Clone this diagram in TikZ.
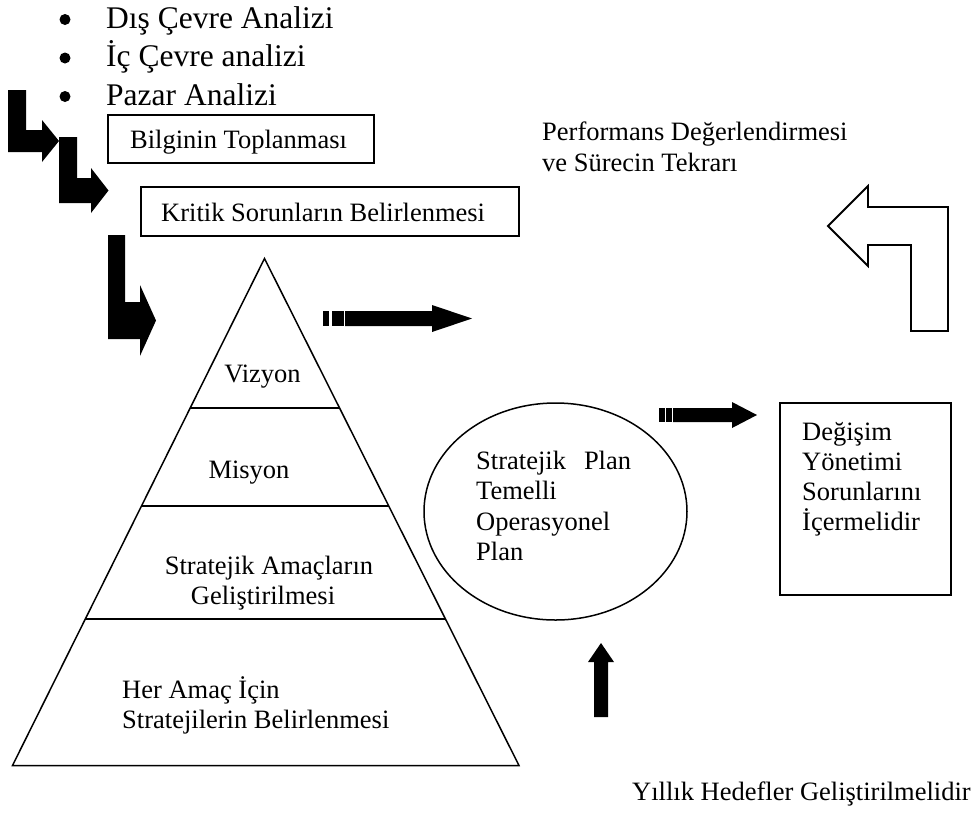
\documentclass[tikz,border=0pt]{standalone}
\usepackage{fontspec}
\setmainfont{Liberation Serif}
\usetikzlibrary{shapes.geometric}
\begin{document}
\begin{tikzpicture}[x=1pt,y=-1pt,
  txt/.style={inner sep=0pt, font=\fontsize{26.5}{30.5}\selectfont},
  bigtxt/.style={inner sep=0pt, font=\fontsize{31.5}{36}\selectfont},
  bulletdot/.style={circle, fill=black, draw=none, minimum size=11pt, inner sep=0pt},
  frame/.style={draw, line width=1.6pt, inner sep=0pt, outer sep=0pt, anchor=north west},
  blockarrow/.style={fill=black, draw=none},
  hollowarrow/.style={draw=black, line width=1.8pt, fill=white, line join=miter},
  pyr/.style={draw=black, line width=1.5pt, line join=miter}
]
\useasboundingbox (0,0) rectangle (975,812);

% bullet list
\node[bulletdot] (b1) at (65,19.5) {};
\node[bulletdot] (b2) at (65,58) {};
\node[bulletdot] (b3) at (65,96.5) {};
\node[bigtxt, anchor=base west] (l1) at (106,28) {Dış Çevre Analizi};
\node[bigtxt, anchor=base west] (l2) at (106,66.5) {İç Çevre analizi};
\node[bigtxt, anchor=base west] (l3) at (106,105) {Pazar Analizi};

% boxes
\node[frame, minimum width=266pt, minimum height=48pt] (bilgi) at (108,115) {};
\node[txt, anchor=base west] (bilgit) at (130,148) {Bilginin Toplanması};
\node[frame, minimum width=378pt, minimum height=49pt] (kritik) at (141,187) {};
\node[txt, anchor=base west] (kritikt) at (161,221.5) {Kritik Sorunların Belirlenmesi};

% bent black arrows
\fill[blockarrow] (8,90) -- (26,90) -- (26,130) -- (42,130) -- (42,120) -- (59,141) -- (42,162) -- (42,152) -- (8,152) -- cycle;
\fill[blockarrow] (59,137) -- (77,137) -- (77,178) -- (91,178) -- (91,168) -- (108.5,190.5) -- (91,213) -- (91,203) -- (59,203) -- cycle;
\fill[blockarrow] (108,235) -- (125,235) -- (125,302) -- (140,302) -- (140,285) -- (156,320.5) -- (140,356) -- (140,339) -- (108,339) -- cycle;

% pyramid
\coordinate (apex) at (264.5,258.5);
\coordinate (bl) at (12.5,765.5);
\coordinate (br) at (519,765.5);
\draw[pyr] (apex) -- (br) -- (bl) -- cycle;
\draw[pyr] (190.2,408) -- (339.5,408);
\draw[pyr] (141.5,506) -- (388.7,506);
\draw[pyr] (85.3,619) -- (445.5,619);
\node[txt, anchor=base] (viz) at (262.5,382) {Vizyon};
\node[txt, anchor=base] (mis) at (249,478.5) {Misyon};
\node[txt, anchor=base] (sa1) at (269,574) {Stratejik Amaçların};
\node[txt, anchor=base] (sa2) at (263,604) {Geliştirilmesi};
\node[txt, anchor=base west] (ha1) at (122,698.5) {Her Amaç İçin};
\node[txt, anchor=base west] (ha2) at (122,728) {Stratejilerin Belirlenmesi};

% striped arrow 1
\fill[blockarrow] (323,311) rectangle (329,326);
\fill[blockarrow] (331.5,311) rectangle (343.5,326);
\fill[blockarrow] (345,311) -- (432,311) -- (432,305) -- (472,318.5) -- (432,332) -- (432,326) -- (345,326) -- cycle;

% performance text and hollow arrow
\node[txt, anchor=base west] (perf1) at (542,140) {Performans Değerlendirmesi};
\node[txt, anchor=base west] (perf2) at (542,171) {ve Sürecin Tekrarı};
\draw[hollowarrow] (828,226) -- (868,186) -- (868,207) -- (948,207) -- (948,331) -- (911,331) -- (911,245) -- (868,245) -- (868,266) -- cycle;

% ellipse
\node[draw, ellipse, line width=1.5pt, minimum width=263pt, minimum height=217pt, inner sep=0pt] (plan) at (555.5,511.5) {};
\node[txt, anchor=base west] (p1) at (476,469) {Stratejik\hspace{18pt}Plan};
\node[txt, anchor=base west] (p2) at (476,499.5) {Temelli};
\node[txt, anchor=base west] (p3) at (476,530) {Operasyonel};
\node[txt, anchor=base west] (p4) at (476,560.5) {Plan};

% striped arrow 2
\fill[blockarrow] (658.5,408) rectangle (664.5,422);
\fill[blockarrow] (666,408) rectangle (671.5,422);
\fill[blockarrow] (673,408) -- (732,408) -- (732,402) -- (757,415) -- (732,428) -- (732,422) -- (673,422) -- cycle;

% right box
\node[frame, minimum width=171pt, minimum height=192pt] (degisim) at (780,403) {};
\node[txt, anchor=base west] (d1) at (802,440) {Değişim};
\node[txt, anchor=base west] (d2) at (802,470) {Yönetimi};
\node[txt, anchor=base west] (d3) at (802,500) {Sorunlarını};
\node[txt, anchor=base west] (d4) at (802,530) {İçermelidir};

% up arrow
\fill[blockarrow] (594,717) -- (594,662) -- (588,662) -- (601,643) -- (614,662) -- (608,662) -- (608,717) -- cycle;
\node[txt, anchor=base west] (yil) at (632,800) {Yıllık Hedefler Geliştirilmelidir};
\end{tikzpicture}
\end{document}
